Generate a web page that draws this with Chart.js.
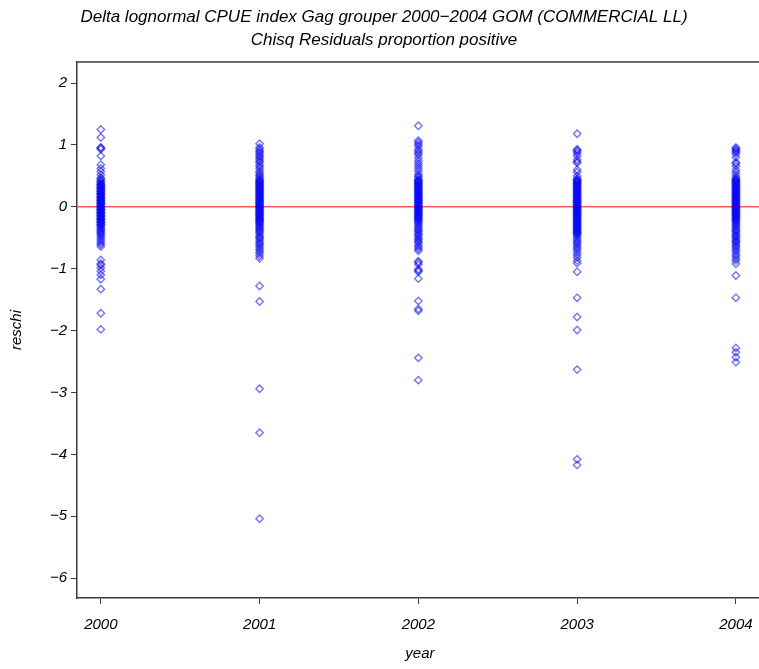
<!DOCTYPE html>
<html>
<head>
<meta charset="utf-8">
<script src="https://cdn.jsdelivr.net/npm/chart.js@4/dist/chart.umd.min.js"></script>
<style>
  html, body { margin: 0; padding: 0; background: #fff; overflow: hidden; }
  #wrap { position: relative; width: 768px; height: 669px; }
</style>
</head>
<body>
<div id="wrap"><canvas id="c" width="768" height="669"></canvas></div>
<script>
// Chi-square residuals of the proportion-positive component, by year
const years = [2000, 2001, 2002, 2003, 2004];

const resid2000 = [1.25, 1.12, 0.96, 0.95, 0.93, 0.82, 0.68, 0.62, 0.57, 0.52, 0.47, 0.45,
  0.43, 0.41, 0.39, 0.37, 0.36, 0.35, 0.34, 0.32, 0.31, 0.30, 0.29, 0.27, 0.26, 0.25, 0.24,
  0.22, 0.21, 0.20, 0.19, 0.17, 0.16, 0.15, 0.14, 0.12, 0.11, 0.10, 0.09, 0.07, 0.06, 0.05,
  0.04, 0.02, 0.01, 0.00, -0.01, -0.03, -0.04, -0.05, -0.06, -0.08, -0.09, -0.10, -0.11,
  -0.13, -0.14, -0.15, -0.16, -0.18, -0.19, -0.20, -0.21, -0.23, -0.24, -0.25, -0.26,
  -0.28, -0.29, -0.30, -0.32, -0.34, -0.36, -0.38, -0.40, -0.42, -0.44, -0.46, -0.49,
  -0.52, -0.55, -0.58, -0.61, -0.64, -0.86, -0.92, -0.94, -0.99, -1.04, -1.10, -1.17,
  -1.33, -1.72, -1.98];

const resid2001 = [1.02, 0.96, 0.93, 0.90, 0.88, 0.85, 0.82, 0.80, 0.77, 0.74, 0.72, 0.68,
  0.65, 0.62, 0.58, 0.55, 0.52, 0.50, 0.47, 0.45, 0.43, 0.42, 0.41, 0.39, 0.38, 0.37, 0.35,
  0.34, 0.33, 0.31, 0.30, 0.29, 0.27, 0.26, 0.25, 0.23, 0.22, 0.21, 0.19, 0.18, 0.17, 0.15,
  0.14, 0.13, 0.11, 0.10, 0.09, 0.07, 0.06, 0.05, 0.03, 0.02, 0.01, -0.01, -0.02, -0.03,
  -0.05, -0.06, -0.07, -0.09, -0.10, -0.11, -0.13, -0.14, -0.15, -0.17, -0.18, -0.19,
  -0.21, -0.22, -0.23, -0.25, -0.26, -0.28, -0.30, -0.32, -0.34, -0.36, -0.38, -0.40,
  -0.42, -0.45, -0.48, -0.50, -0.52, -0.55, -0.58, -0.60, -0.63, -0.66, -0.69, -0.72,
  -0.75, -0.79, -0.83, -1.28, -1.53, -2.94, -3.65, -5.04];

const resid2002 = [1.31, 1.07, 1.04, 1.01, 0.98, 0.93, 0.90, 0.87, 0.84, 0.79, 0.74, 0.70,
  0.66, 0.62, 0.58, 0.53, 0.50, 0.48, 0.45, 0.43, 0.42, 0.41, 0.39, 0.38, 0.37, 0.35, 0.34,
  0.33, 0.31, 0.30, 0.29, 0.27, 0.26, 0.25, 0.23, 0.22, 0.21, 0.19, 0.18, 0.17, 0.15, 0.14,
  0.13, 0.11, 0.10, 0.09, 0.07, 0.06, 0.05, 0.03, 0.02, 0.01, -0.01, -0.02, -0.03, -0.05,
  -0.06, -0.07, -0.09, -0.10, -0.11, -0.13, -0.14, -0.15, -0.17, -0.18, -0.19, -0.21,
  -0.22, -0.24, -0.26, -0.28, -0.31, -0.33, -0.36, -0.38, -0.40, -0.43, -0.45, -0.48,
  -0.51, -0.53, -0.56, -0.58, -0.62, -0.65, -0.68, -0.71, -0.88, -0.90, -0.93, -1.01,
  -1.03, -1.05, -1.16, -1.52, -1.65, -1.68, -2.44, -2.80];

const resid2003 = [1.18, 0.93, 0.91, 0.89, 0.86, 0.82, 0.76, 0.73, 0.71, 0.60, 0.56, 0.50,
  0.46, 0.44, 0.43, 0.42, 0.41, 0.39, 0.38, 0.37, 0.35, 0.34, 0.33, 0.31, 0.30, 0.29, 0.27,
  0.26, 0.25, 0.23, 0.22, 0.21, 0.19, 0.18, 0.17, 0.15, 0.14, 0.13, 0.11, 0.10, 0.09, 0.07,
  0.06, 0.05, 0.03, 0.02, 0.01, -0.01, -0.02, -0.03, -0.05, -0.06, -0.07, -0.09, -0.10,
  -0.11, -0.13, -0.14, -0.15, -0.17, -0.18, -0.19, -0.21, -0.22, -0.23, -0.25, -0.26,
  -0.27, -0.29, -0.30, -0.31, -0.33, -0.34, -0.35, -0.37, -0.38, -0.39, -0.41, -0.42,
  -0.43, -0.45, -0.47, -0.50, -0.53, -0.56, -0.58, -0.61, -0.64, -0.67, -0.70, -0.74,
  -0.78, -0.82, -0.87, -0.91, -1.05, -1.47, -1.78, -1.99, -2.63, -4.08, -4.17];

const resid2004 = [0.96, 0.94, 0.92, 0.90, 0.88, 0.85, 0.80, 0.72, 0.70, 0.66, 0.60, 0.56,
  0.52, 0.48, 0.46, 0.44, 0.43, 0.42, 0.41, 0.39, 0.38, 0.37, 0.35, 0.34, 0.33, 0.31, 0.30,
  0.29, 0.27, 0.26, 0.25, 0.23, 0.22, 0.21, 0.19, 0.18, 0.17, 0.15, 0.14, 0.13, 0.11, 0.10,
  0.09, 0.07, 0.06, 0.05, 0.03, 0.02, 0.01, -0.01, -0.02, -0.03, -0.05, -0.06, -0.07,
  -0.09, -0.10, -0.11, -0.13, -0.14, -0.15, -0.17, -0.18, -0.19, -0.21, -0.22, -0.24,
  -0.26, -0.28, -0.30, -0.32, -0.35, -0.37, -0.39, -0.41, -0.44, -0.46, -0.48, -0.50,
  -0.53, -0.55, -0.57, -0.59, -0.62, -0.64, -0.67, -0.70, -0.73, -0.77, -0.80, -0.84,
  -0.87, -0.92, -1.11, -1.47, -2.28, -2.35, -2.43, -2.51];

const residByYear = [resid2000, resid2001, resid2002, resid2003, resid2004];
const yTicks = [-6, -5, -4, -3, -2, -1, 0, 1, 2];
const referenceLevel = 0;

const titleLines = [
  'Delta lognormal CPUE index Gag grouper 2000\u22122004 GOM (COMMERCIAL LL)',
  'Chisq Residuals proportion positive'
];

const FONT = '"Liberation Sans", Arial, Helvetica, sans-serif';
const AXIS_COLOR = '#3a3a3a';

const datasets = years.map((yr, i) => ({
  label: String(yr),
  data: residByYear[i].map(v => ({ x: yr, y: v })),
  pointStyle: 'rectRot',
  pointRadius: 3.7,
  pointHoverRadius: 3.7,
  borderWidth: 1.4,
  borderColor: 'rgba(0,0,255,0.55)',
  backgroundColor: 'rgba(0,0,0,0)'
}));

// Titles, frame top edge and the zero reference line
const decorations = {
  id: 'decorations',
  beforeDatasetsDraw(chart) {
    const { ctx, chartArea, scales } = chart;
    const y0 = scales.y.getPixelForValue(referenceLevel);
    ctx.save();
    ctx.strokeStyle = '#ff5a5a';
    ctx.lineWidth = 1.5;
    ctx.beginPath();
    ctx.moveTo(chartArea.left, y0);
    ctx.lineTo(chartArea.right, y0);
    ctx.stroke();
    ctx.restore();
  },
  afterDraw(chart) {
    const { ctx, chartArea } = chart;
    ctx.save();
    ctx.strokeStyle = AXIS_COLOR;
    ctx.lineWidth = 1.5;
    ctx.beginPath();
    ctx.moveTo(chartArea.left, chartArea.top);
    ctx.lineTo(chartArea.right, chartArea.top);
    ctx.stroke();
    ctx.fillStyle = '#000';
    ctx.font = 'italic 17px ' + FONT;
    ctx.textAlign = 'center';
    ctx.textBaseline = 'middle';
    ctx.fillText(titleLines[0], 384, 17);
    ctx.fillText(titleLines[1], 384, 40);
    ctx.restore();
  }
};

new Chart(document.getElementById('c'), {
  type: 'scatter',
  data: { datasets },
  plugins: [decorations],
  options: {
    responsive: false,
    animation: false,
    events: [],
    layout: { padding: { top: 62, left: 0, right: 0, bottom: 0 } },
    plugins: { legend: { display: false }, tooltip: { enabled: false }, title: { display: false } },
    scales: {
      x: {
        type: 'linear',
        min: 1999.85,
        max: 2004.17,
        afterBuildTicks(scale) { scale.ticks = years.map(v => ({ value: v })); },
        afterFit(scale) { scale.height = 71; },
        border: { display: true, color: AXIS_COLOR, width: 1.5 },
        grid: { display: true, drawOnChartArea: false, drawTicks: true, tickLength: 6, color: AXIS_COLOR, lineWidth: 1 },
        ticks: {
          padding: 12,
          color: '#000',
          font: { family: FONT, size: 15, style: 'italic' },
          maxRotation: 0,
          callback: v => String(v)
        },
        title: {
          display: true,
          text: 'year',
          color: '#000',
          padding: { top: 4, bottom: 6 },
          font: { family: FONT, size: 15, style: 'italic' }
        }
      },
      y: {
        min: -6.32,
        max: 2.34,
        afterBuildTicks(scale) { scale.ticks = yTicks.map(v => ({ value: v })); },
        afterFit(scale) { scale.width = 77; },
        border: { display: true, color: AXIS_COLOR, width: 1.5 },
        grid: { display: true, drawOnChartArea: false, drawTicks: true, tickLength: 6, color: AXIS_COLOR, lineWidth: 1 },
        ticks: {
          padding: 4,
          color: '#000',
          font: { family: FONT, size: 15, style: 'italic' },
          callback: v => String(v).replace('-', '\u2212')
        },
        title: {
          display: true,
          text: 'reschi',
          color: '#000',
          padding: { top: 8, bottom: 4 },
          font: { family: FONT, size: 15, style: 'italic' }
        }
      }
    }
  }
});
</script>
</body>
</html>
